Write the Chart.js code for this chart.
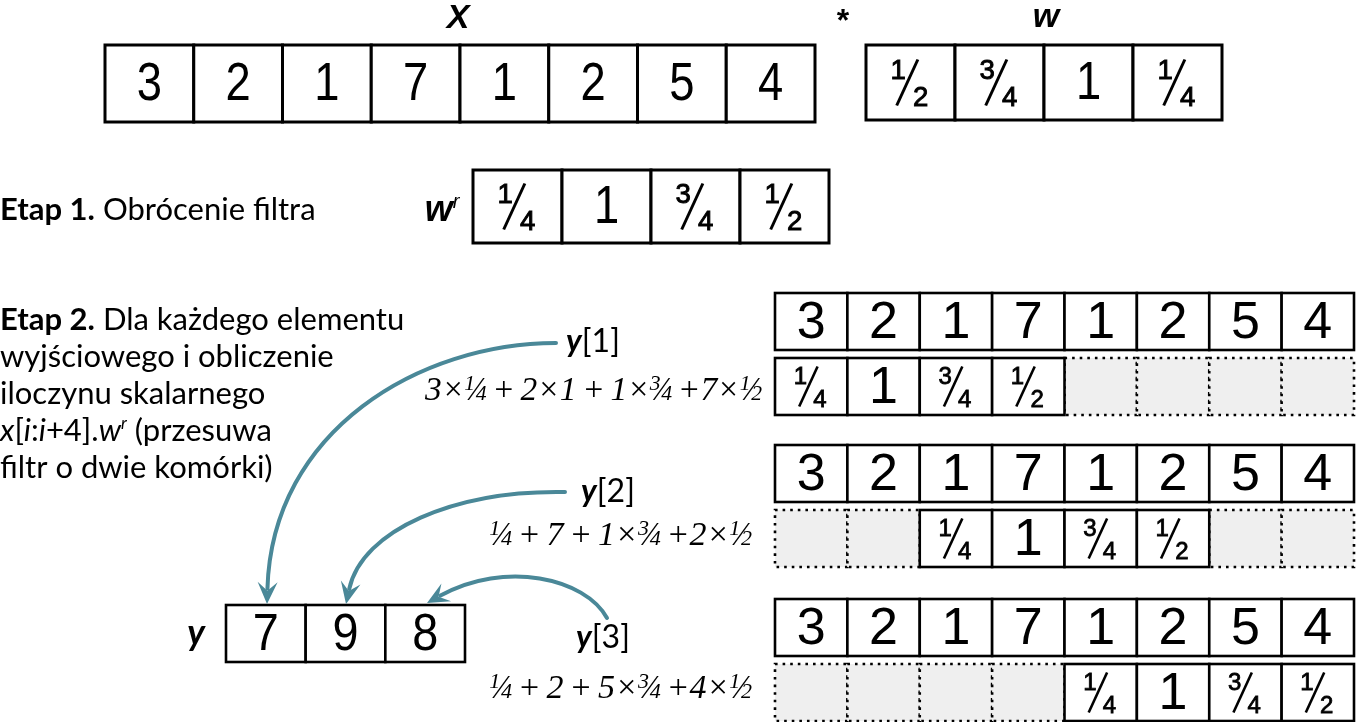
<!DOCTYPE html>
<html>
<head>
<meta charset="utf-8">
<script src="https://cdn.jsdelivr.net/npm/chart.js@4"></script>
<style>
  html, body { margin: 0; padding: 0; background: #fff; }
  #wrap { width: 1356px; height: 722px; position: relative; }
</style>
</head>
<body>
<div id="wrap"><canvas id="canvas"></canvas></div>
<script>
// the input signal and the filter
let inputX = [3, 2, 1, 7, 1, 2, 5, 4];
let filterW = ['½', '¾', '1', '¼'];
// filter flipped (step 1)
let filterWr = ['¼', '1', '¾', '½'];
// output of the convolution
let outputY = [7, 9, 8];

// where the flipped filter starts for every output value (stride 2)
let stepOffsets = [0, 2, 4];
let stepNames = ['1', '2', '3'];
let stepFormulas = [
  '3×¼ + 2×1 + 1×¾ +7×½',
  '¼ + 7 + 1×¾ +2×½',
  '¼ + 2 + 5×¾ +4×½'
];

// text on the left
let step1Title = ['Etap 1.', ' Obrócenie filtra'];
let step2Lines = [
  'Dla każdego elementu',
  'wyjściowego i obliczenie',
  'iloczynu skalarnego',
  null, // the x[i:i+4].w line is drawn with mixed fonts
  'filtr o dwie komórki)'
];

const ARROW = '#4a8898';
const GREY = '#efefef';
const SANS = '"Liberation Sans", Arial, sans-serif';
const TXT = 'Lato, "Open Sans", sans-serif';
const SERIF = '"Liberation Serif", "DejaVu Serif", serif';
const FRAC = { '¼': ['1', '4'], '½': ['1', '2'], '¾': ['3', '4'] };

// the drawing, done through the chart's scales
const diagram = {
  id: 'diagram',
  afterDraw(chart) {
    const ctx = chart.ctx;
    const xs = chart.scales.x, ys = chart.scales.y;
    const px = v => xs.getPixelForValue(v);
    const py = v => ys.getPixelForValue(v);

    function text(str, x, y, font, align) {
      ctx.save();
      ctx.font = font;
      ctx.fillStyle = '#000';
      ctx.textAlign = align || 'center';
      ctx.textBaseline = 'middle';
      ctx.fillText(str, px(x), py(y));
      ctx.restore();
    }

    // runs: [{t, f, dy}] drawn one after another, baseline alphabetic
    // fit: optional width the whole line is squeezed into
    function runs(list, x, y, align, fit) {
      ctx.save();
      let total = 0;
      list.forEach(r => { ctx.font = r.f; total += ctx.measureText(r.t).width + (r.kern || 0); });
      const sx = fit ? Math.min(1, fit / total) : 1;
      let cx = px(x);
      if (align === 'center') cx -= total * sx / 2;
      if (align === 'right') cx -= total * sx;
      ctx.translate(cx, 0);
      ctx.scale(sx, 1);
      ctx.textBaseline = 'alphabetic';
      ctx.fillStyle = '#000';
      let ox = 0;
      list.forEach(r => {
        ctx.font = r.f;
        ctx.fillText(r.t, ox, py(y + (r.dy || 0)));
        ox += ctx.measureText(r.t).width + (r.kern || 0);
      });
      ctx.restore();
    }

    // formula text with hand-built fractions (italic serif)
    function formula(str, x, y, size, fit) {
      const big = 'italic ' + size + 'px ' + SERIF;
      const small = 'italic ' + Math.round(size * 0.64) + 'px ' + SERIF;
      const list = [];
      let buf = '';
      for (const ch of str) {
        if (FRAC[ch]) {
          if (buf) { list.push({ t: buf, f: big }); buf = ''; }
          list.push({ t: FRAC[ch][0], f: small, dy: -size * 0.3, kern: -2 });
          list.push({ t: '⁄', f: big, kern: -3 });
          list.push({ t: FRAC[ch][1], f: small });
        } else if (ch === ' ') {
          if (buf) { list.push({ t: buf, f: big }); buf = ''; }
          list.push({ t: ' ', f: big, kern: -size * 0.08 });
        } else buf += ch;
      }
      if (buf) list.push({ t: buf, f: big });
      runs(list, x, y, 'right', fit);
    }

    // a big fraction glyph inside a cell
    function fraction(ch, cx, cy, H) {
      const [n, d] = FRAC[ch];
      ctx.save();
      ctx.fillStyle = '#000';
      ctx.strokeStyle = '#000';
      ctx.textAlign = 'center';
      ctx.textBaseline = 'alphabetic';
      const fs = H * 0.6;
      ctx.font = fs + 'px ' + SANS;
      ctx.lineWidth = H * 0.02;
      const dh = fs * 0.716;
      // numerator up-left, denominator down-right
      ctx.fillText(n, cx - H * 0.27, cy - H * 0.5 + dh);
      ctx.strokeText(n, cx - H * 0.27, cy - H * 0.5 + dh);
      ctx.fillText(d, cx + H * 0.22, cy + H * 0.5);
      ctx.strokeText(d, cx + H * 0.22, cy + H * 0.5);
      ctx.lineWidth = H * 0.065;
      ctx.beginPath();
      ctx.moveTo(cx - H * 0.30, cy + H * 0.5);
      ctx.lineTo(cx + H * 0.16, cy - H * 0.5);
      ctx.stroke();
      ctx.restore();
    }

    function cell(x0, y0, x1, y1, label, o) {
      const L = px(x0), T = py(y0), R = px(x1), B = py(y1);
      ctx.save();
      if (o.dotted) {
        ctx.fillStyle = GREY;
        ctx.fillRect(L, T, R - L, B - T);
        ctx.setLineDash([2.6, 5]);
        ctx.lineWidth = 2.6;
      } else {
        ctx.fillStyle = '#fff';
        ctx.fillRect(L, T, R - L, B - T);
        ctx.lineWidth = o.lw || 2.6;
      }
      ctx.strokeStyle = '#000';
      ctx.strokeRect(L, T, R - L, B - T);
      ctx.restore();
      if (label === undefined || label === null) return;
      const cxp = (L + R) / 2, cyp = (T + B) / 2;
      if (FRAC[label]) {
        fraction(label, cxp, cyp + (o.fdy || 0), o.fh);
        return;
      }
      ctx.save();
      ctx.font = o.font;
      ctx.fillStyle = '#000';
      ctx.textAlign = 'center';
      ctx.textBaseline = 'middle';
      ctx.translate(cxp, cyp + (o.dy || 0));
      ctx.scale(o.sx || 1, 1);
      ctx.fillText(String(label), 0, 0);
      ctx.restore();
    }

    function row(values, x0, x1, y0, y1, o) {
      const w = (x1 - x0) / values.length;
      values.forEach((v, i) => cell(x0 + i * w, y0, x0 + (i + 1) * w, y1, v, o));
    }

    function arrow(p0, c1, c2, p3) {
      ctx.save();
      ctx.strokeStyle = ARROW;
      ctx.fillStyle = ARROW;
      ctx.lineWidth = 4;
      ctx.lineCap = 'round';
      const ex = px(p3[0]), ey = py(p3[1]);
      const ang = Math.atan2(ey - py(c2[1]), ex - px(c2[0]));
      const len = 22, half = 10;
      const bx = ex - Math.cos(ang) * len * 0.7, by = ey - Math.sin(ang) * len * 0.7;
      ctx.beginPath();
      ctx.moveTo(px(p0[0]), py(p0[1]));
      ctx.bezierCurveTo(px(c1[0]), py(c1[1]), px(c2[0]), py(c2[1]), bx, by);
      ctx.stroke();
      ctx.beginPath();
      ctx.moveTo(ex, ey);
      ctx.lineTo(ex - Math.cos(ang) * len + Math.cos(ang + Math.PI / 2) * half,
                 ey - Math.sin(ang) * len + Math.sin(ang + Math.PI / 2) * half);
      ctx.lineTo(ex - Math.cos(ang) * len * 0.6, ey - Math.sin(ang) * len * 0.6);
      ctx.lineTo(ex - Math.cos(ang) * len - Math.cos(ang + Math.PI / 2) * half,
                 ey - Math.sin(ang) * len - Math.sin(ang + Math.PI / 2) * half);
      ctx.closePath();
      ctx.fill();
      ctx.restore();
    }

    // ---- top: X * w ----
    text('X', 458, 19, 'italic bold 34px ' + SANS);
    text('*', 843, 22, 'bold 32px ' + SANS);
    text('w', 1046, 18, 'italic bold 34px ' + SANS);
    const topCell = { font: '54px ' + SANS, sx: 0.84, lw: 3, fh: 46, dy: 2 };
    row(inputX, 105, 815, 45, 122, topCell);
    row(filterW, 866, 1222, 45, 120, topCell);

    // ---- step 1 ----
    runs([{ t: step1Title[0], f: 'bold 31px ' + TXT },
          { t: step1Title[1], f: '31px ' + TXT }], 0, 220, 'left');
    runs([{ t: 'w', f: 'italic bold 36px ' + SANS },
          { t: 'r', f: 'italic 20px ' + SANS, dy: -13 }], 442, 221, 'center');
    row(filterWr, 473, 829, 170, 243, topCell);

    // ---- step 2 text ----
    const lineY = [330, 367, 404, 441, 478];
    runs([{ t: 'Etap 2.', f: 'bold 31px ' + TXT },
          { t: ' ' + step2Lines[0], f: '31px ' + TXT }], 0, lineY[0], 'left');
    [1, 2, 4].forEach(i => runs([{ t: step2Lines[i], f: '31px ' + TXT }], 0, lineY[i], 'left'));
    runs([{ t: 'x', f: 'italic 31px ' + TXT }, { t: '[', f: '31px ' + TXT },
          { t: 'i', f: 'italic 31px ' + TXT }, { t: ':', f: '31px ' + TXT },
          { t: 'i', f: 'italic 31px ' + TXT }, { t: '+4].', f: '31px ' + TXT },
          { t: 'w', f: 'italic 31px ' + TXT }, { t: 'r', f: 'italic 17px ' + TXT, dy: -12 },
          { t: ' (przesuwa', f: '31px ' + TXT }], 0, lineY[3], 'left');

    // ---- step 2 rows: x on top, shifted filter below ----
    const rowTops = [293, 445, 599];
    const gx0 = 775, gx1 = 1354, cw = (gx1 - gx0) / inputX.length;
    const lowCell = { font: '52px ' + SANS, lw: 2.6, fh: 40, dy: 2 };
    rowTops.forEach((top, k) => {
      row(inputX, gx0, gx1, top, top + 57, lowCell);
      const fTop = top + 65, fBot = top + 122;
      const off = stepOffsets[k];
      // empty (dotted) cells first, then the filter on top of them
      inputX.forEach((_, i) => {
        if (i < off || i >= off + filterWr.length) {
          cell(gx0 + i * cw, fTop, gx0 + (i + 1) * cw, fBot, null, { dotted: true });
        }
      });
      filterWr.forEach((v, j) => {
        const i = off + j;
        cell(gx0 + i * cw, fTop, gx0 + (i + 1) * cw, fBot, v, lowCell);
      });
    });

    // ---- labels y[n] and formulas ----
    const labelPos = [[593, 352], [608, 502], [603, 648]];
    const formulaPos = [[762, 400], [752, 545], [752, 698]];
    const formulaWidth = [337, 268, 268];
    stepNames.forEach((n, k) => {
      runs([{ t: 'y', f: 'italic bold 32px ' + TXT }, { t: '[' + n + ']', f: '32px ' + TXT }],
           labelPos[k][0], labelPos[k][1], 'center');
      formula(stepFormulas[k], formulaPos[k][0], formulaPos[k][1], 34, formulaWidth[k]);
    });

    // ---- output y ----
    runs([{ t: 'y', f: 'italic bold 36px ' + TXT }], 196, 645, 'center');
    row(outputY, 226, 465, 605, 662, { font: '52px ' + SANS, sx: 0.9, lw: 2.6, dy: 2 });

    // ---- arrows from y[n] to the output cells ----
    arrow([556, 343], [420, 343], [272, 430], [267, 604]);
    arrow([565, 492], [455, 490], [362, 530], [346, 604]);
    arrow([607, 618], [585, 578], [505, 560], [427, 603]);
  }
};

let options = {
  type: 'scatter',
  data: { datasets: [{ data: [], pointRadius: 0 }] },
  options: {
    responsive: true,
    maintainAspectRatio: false,
    animation: false,
    layout: { padding: 0 },
    plugins: { legend: { display: false }, tooltip: { enabled: false } },
    scales: {
      x: { type: 'linear', min: 0, max: 1356, display: false },
      y: { type: 'linear', min: 0, max: 722, reverse: true, display: false }
    }
  },
  plugins: [diagram]
};

let chart = new Chart(document.getElementById('canvas'), options);
</script>
</body>
</html>
